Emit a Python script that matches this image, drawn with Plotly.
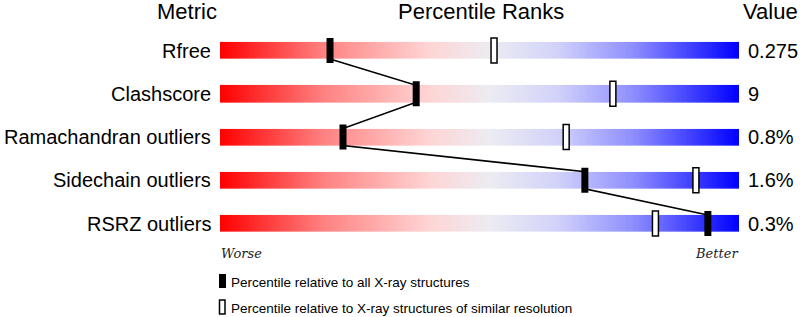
import numpy as np
import plotly.graph_objects as go

metrics = ["Rfree", "Clashscore", "Ramachandran outliers", "Sidechain outliers", "RSRZ outliers"]
values = ["0.275", "9", "0.8%", "1.6%", "0.3%"]
pct_all = [21.2, 37.8, 23.7, 70.3, 94.0]
pct_res = [52.8, 75.7, 66.7, 91.7, 83.9]
legend_labels = ["Percentile relative to all X-ray structures",
                 "Percentile relative to X-ray structures of similar resolution"]

W, H = 800, 317
L, R = 220, 61
PW = W - L - R
row0, rowstep = 50.5, 43.25

def px_x(p):  # pixel x -> paper
    return (p - L) / PW

def px_y(p):  # pixel y -> paper
    return 1 - p / H

FONT = "Liberation Sans, Arial, sans-serif"
fig = go.Figure()

xs = np.linspace(0, 100, 400)
fig.add_trace(go.Heatmap(
    x=xs, y=list(range(len(metrics))), z=[list(xs)] * len(metrics),
    colorscale=[[0, "rgb(255,0,0)"], [0.2, "rgb(255,130,130)"], [0.4, "rgb(255,212,212)"],
                [0.52, "rgb(236,236,242)"], [0.65, "rgb(210,210,250)"], [0.8, "rgb(140,140,255)"],
                [1, "rgb(0,0,255)"]],
    zmin=0, zmax=100, showscale=False, ygap=26.3, xgap=0, hoverinfo="skip"))

hb = 8.5 / rowstep
lx, ly = [], []
for i, p in enumerate(pct_all):
    if i > 0:
        lx.append(p); ly.append(i - hb)
    if i < len(pct_all) - 1:
        lx.append(p); ly.append(i + hb)
fig.add_trace(go.Scatter(x=lx, y=ly, mode="lines", line=dict(color="black", width=1.6),
                         hoverinfo="skip", showlegend=False))

mh = 12.5 / rowstep
wf = 7 / PW * 100
wo = 6 / PW * 100
for i in range(len(metrics)):
    fig.add_shape(type="rect", xref="x", yref="y", x0=pct_res[i] - wo / 2, x1=pct_res[i] + wo / 2,
                  y0=i - mh, y1=i + mh, fillcolor="white", line=dict(color="black", width=1.5), layer="above")
    fig.add_shape(type="rect", xref="x", yref="y", x0=pct_all[i] - wf / 2, x1=pct_all[i] + wf / 2,
                  y0=i - mh, y1=i + mh, fillcolor="black", line=dict(color="black", width=0), layer="above")
    fig.add_annotation(x=0, xref="paper", y=i, yref="y", text=metrics[i], showarrow=False,
                       xanchor="right", yanchor="middle", xshift=-7,
                       font=dict(family=FONT, size=20, color="black"))
    fig.add_annotation(x=1, xref="paper", y=i, yref="y", text=values[i], showarrow=False,
                       xanchor="left", yanchor="middle", xshift=7,
                       font=dict(family=FONT, size=20, color="black"))

for txt, cx in [("Metric", 187), ("Percentile Ranks", 481), ("Value", 770)]:
    fig.add_annotation(x=px_x(cx), xref="paper", y=px_y(11), yref="paper", text=txt, showarrow=False,
                       xanchor="center", yanchor="middle", font=dict(family=FONT, size=22, color="black"))

fig.add_annotation(x=0, xref="paper", y=px_y(253), yref="paper", text="<i>Worse</i>", showarrow=False,
                   xanchor="left", yanchor="middle", xshift=-1,
                   font=dict(family="DejaVu Serif", size=13, color="#222"))
fig.add_annotation(x=1, xref="paper", y=px_y(253), yref="paper", text="<i>Better</i>", showarrow=False,
                   xanchor="right", yanchor="middle", xshift=1,
                   font=dict(family="DejaVu Serif", size=13, color="#222"))

# legend
fig.add_shape(type="rect", xref="paper", yref="paper", x0=px_x(219), x1=px_x(226),
              y0=px_y(288), y1=px_y(274), fillcolor="black", line=dict(width=0))
fig.add_shape(type="rect", xref="paper", yref="paper", x0=px_x(219.5), x1=px_x(225),
              y0=px_y(314), y1=px_y(300), fillcolor="white", line=dict(color="black", width=1.5))
for txt, cy in zip(legend_labels, [282, 308]):
    fig.add_annotation(x=px_x(229), xref="paper", y=px_y(cy), yref="paper", text=txt, showarrow=False,
                       xanchor="left", yanchor="middle", font=dict(family=FONT, size=13.5, color="black"))

fig.update_layout(
    width=W, height=H, margin=dict(l=L, r=R, t=0, b=0),
    paper_bgcolor="white", plot_bgcolor="white", showlegend=False,
    xaxis=dict(range=[0, 100], visible=False, fixedrange=True),
    yaxis=dict(range=[(H - row0) / rowstep, -row0 / rowstep], visible=False, fixedrange=True),
)
fig.write_html("out.html")
